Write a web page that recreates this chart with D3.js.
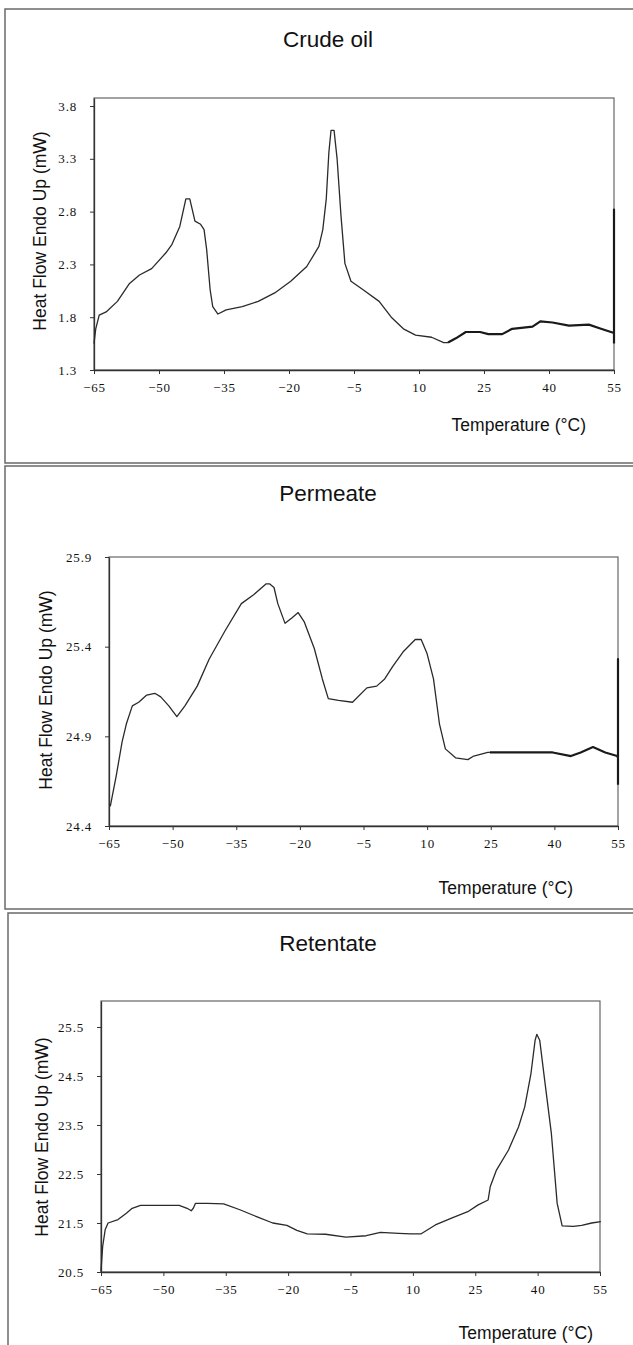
<!DOCTYPE html>
<html>
<head>
<meta charset="utf-8">
<script src="https://cdn.jsdelivr.net/npm/d3@7"></script>
<style>
  body { margin: 0; background: #fff; }
  .tick text { font-family: "Liberation Serif", "Times New Roman", serif; font-size: 13px; letter-spacing: 0.8px; fill: #111; }
  .lbl { font-family: "Liberation Sans", Arial, sans-serif; fill: #111; }
</style>
</head>
<body>
<svg id="chart" width="633" height="1345"></svg>
<script>
// shared x axis ticks (Temperature, °C)
var xTicks = [-65, -50, -35, -20, -5, 10, 25, 40, 55];

// Crude oil
var crudeTemp = [-65, -64.6, -63.8, -62.2, -59.6, -56.8, -54.5, -51.7, -48.4, -47.0, -45.2, -43.8, -42.9, -41.7, -40.4, -39.6, -39.0, -38.2, -37.6, -36.4, -34.5, -30.8, -27.1, -23.3, -19.6, -15.9, -13.1, -12.2, -11.4, -10.8, -10.3, -9.6, -8.9, -8.0, -7.1, -5.7, -2.9, 0.8, 3.6, 6.4, 9.2, 12.9, 15.7, 16.7, 18.5, 20.8, 24.1, 26.0, 29.2, 31.5, 36.2, 38.0, 40.8, 44.6, 49.2, 52.0, 55, 55, 55];
var crudeFlow = [1.55, 1.69, 1.82, 1.85, 1.95, 2.12, 2.20, 2.26, 2.41, 2.49, 2.66, 2.92, 2.92, 2.71, 2.68, 2.63, 2.44, 2.06, 1.90, 1.83, 1.87, 1.90, 1.95, 2.03, 2.14, 2.28, 2.47, 2.63, 2.92, 3.36, 3.57, 3.57, 3.30, 2.76, 2.31, 2.14, 2.06, 1.95, 1.80, 1.69, 1.63, 1.61, 1.56, 1.56, 1.60, 1.66, 1.66, 1.64, 1.64, 1.69, 1.71, 1.76, 1.75, 1.72, 1.73, 1.69, 1.65, 2.82, 1.55];
var crudeTicks = [1.3, 1.8, 2.3, 2.8, 3.3, 3.8];

// Permeate
var permTemp = [-64.7, -63.3, -61.9, -60.9, -59.5, -58.0, -56.1, -54.2, -52.8, -50.9, -49.0, -47.1, -44.2, -41.4, -37.6, -33.8, -30.9, -28.0, -27.1, -26.1, -25.2, -23.5, -21.9, -20.4, -19.0, -16.6, -14.7, -13.3, -10.9, -7.6, -4.2, -1.9, 0.0, 1.9, 4.3, 7.2, 8.6, 10.0, 11.5, 12.9, 14.3, 16.7, 19.6, 21.0, 24.3, 24.8, 32.9, 39.6, 43.9, 46.2, 49.1, 52.0, 54.8, 55, 55, 55];
var permFlow = [24.51, 24.68, 24.87, 24.97, 25.07, 25.09, 25.13, 25.14, 25.12, 25.07, 25.01, 25.07, 25.18, 25.33, 25.49, 25.64, 25.69, 25.75, 25.75, 25.73, 25.64, 25.53, 25.56, 25.59, 25.54, 25.39, 25.22, 25.11, 25.10, 25.09, 25.17, 25.18, 25.22, 25.29, 25.37, 25.44, 25.44, 25.36, 25.22, 24.97, 24.83, 24.78, 24.77, 24.79, 24.81, 24.81, 24.81, 24.81, 24.79, 24.81, 24.84, 24.81, 24.79, 24.78, 25.33, 24.63];
var permTicks = [24.4, 24.9, 25.4, 25.9];

// Retentate
var retTemp = [-65, -64.6, -64.0, -63.3, -60.9, -58.9, -57.5, -55.5, -51.1, -46.2, -44.3, -43.3, -42.8, -42.3, -39.4, -35.5, -31.6, -27.6, -23.7, -20.3, -17.9, -15.4, -11.0, -6.1, -1.2, 2.2, 6.6, 9.5, 12.0, 15.4, 19.3, 23.2, 25.7, 28.1, 28.6, 30.1, 33.0, 35.4, 36.9, 38.4, 39.4, 39.8, 40.5, 41.7, 43.3, 44.7, 45.9, 48.6, 50.6, 53.0, 55.2];
var retFlow = [20.51, 21.02, 21.36, 21.50, 21.57, 21.70, 21.80, 21.86, 21.86, 21.86, 21.80, 21.75, 21.80, 21.90, 21.90, 21.89, 21.77, 21.63, 21.50, 21.45, 21.35, 21.28, 21.27, 21.21, 21.24, 21.31, 21.29, 21.28, 21.28, 21.46, 21.60, 21.73, 21.87, 21.97, 22.24, 22.58, 22.99, 23.46, 23.87, 24.55, 25.23, 25.35, 25.23, 24.41, 23.33, 21.90, 21.44, 21.43, 21.45, 21.50, 21.53];
var retTicks = [20.5, 21.5, 22.5, 23.5, 24.5, 25.5];

var panels = [
  { title: "Crude oil", temp: crudeTemp, flow: crudeFlow, yTicks: crudeTicks, yMax: 3.876, heavyFrom: 16.7,
    box: { x: 5, y: 9, h: 454 }, plot: { left: 94, right: 614, top: 98, bottom: 370 },
    titleY: 47, yLab: { x: 40, y: 231 }, xLab: { x: 586, y: 431 } },
  { title: "Permeate", temp: permTemp, flow: permFlow, yTicks: permTicks, yMax: 25.9, heavyFrom: 24.8,
    box: { x: 5, y: 466, h: 443 }, plot: { left: 109, right: 618, top: 557, bottom: 826 },
    titleY: 501, yLab: { x: 46, y: 690 }, xLab: { x: 573, y: 894 } },
  { title: "Retentate", temp: retTemp, flow: retFlow, yTicks: retTicks, yMax: 26.03, heavyFrom: null,
    box: { x: 8, y: 913, h: 440 }, plot: { left: 101, right: 600, top: 1001, bottom: 1272 },
    titleY: 951, yLab: { x: 42, y: 1137 }, xLab: { x: 593, y: 1339 } }
];

var svg = d3.select("#chart");

panels.forEach(function(p) {
  var g = svg.append("g");

  // panel border (runs off the right edge like the scan)
  g.append("rect")
    .attr("x", p.box.x).attr("y", p.box.y)
    .attr("width", 660).attr("height", p.box.h)
    .attr("fill", "none").attr("stroke", "#6a6a6a").attr("stroke-width", 1.5);

  var x = d3.scaleLinear().domain([-65, 55]).range([p.plot.left, p.plot.right]);
  var y = d3.scaleLinear().domain([p.yTicks[0], p.yMax]).range([p.plot.bottom, p.plot.top]);

  // plot frame
  g.append("rect")
    .attr("x", p.plot.left).attr("y", p.plot.top)
    .attr("width", p.plot.right - p.plot.left).attr("height", p.plot.bottom - p.plot.top)
    .attr("fill", "none").attr("stroke", "#666").attr("stroke-width", 1.2);

  g.append("g")
    .attr("transform", "translate(0," + p.plot.bottom + ")")
    .call(d3.axisBottom(x).tickValues(xTicks).tickSize(4).tickSizeOuter(0).tickPadding(9).tickFormat(d3.format("d")))
    .call(function(a) { a.select(".domain").attr("stroke", "#333").attr("stroke-width", 1.3); a.selectAll("line").attr("stroke", "#333"); });

  g.append("g")
    .attr("transform", "translate(" + p.plot.left + ",0)")
    .call(d3.axisLeft(y).tickValues(p.yTicks).tickSize(4).tickSizeOuter(0).tickPadding(13).tickFormat(d3.format(".1f")))
    .call(function(a) { a.select(".domain").attr("stroke", "#333").attr("stroke-width", 1.3); a.selectAll("line").attr("stroke", "#333"); });

  var pts = p.temp.map(function(t, i) { return [t, p.flow[i]]; });
  var line = d3.line().x(function(d) { return x(d[0]); }).y(function(d) { return y(d[1]); });

  var thin = p.heavyFrom === null ? pts : pts.filter(function(d) { return d[0] <= p.heavyFrom; });
  g.append("path").datum(thin).attr("d", line)
    .attr("fill", "none").attr("stroke", "#2a2a2a").attr("stroke-width", 1.3).attr("stroke-linejoin", "round");

  if (p.heavyFrom !== null) {
    var heavy = pts.filter(function(d) { return d[0] >= p.heavyFrom; });
    g.append("path").datum(heavy).attr("d", line)
      .attr("fill", "none").attr("stroke", "#1a1a1a").attr("stroke-width", 2.2).attr("stroke-linejoin", "round");
  }

  // titles
  g.append("text").attr("class", "lbl")
    .attr("x", 328).attr("y", p.titleY).attr("text-anchor", "middle")
    .style("font-size", "22.5px").text(p.title);

  g.append("text").attr("class", "lbl")
    .attr("transform", "translate(" + p.yLab.x + "," + p.yLab.y + ") rotate(-90)")
    .attr("text-anchor", "middle").attr("dy", "0.35em")
    .style("font-size", "17.5px").text("Heat Flow Endo Up (mW)");

  g.append("text").attr("class", "lbl")
    .attr("x", p.xLab.x).attr("y", p.xLab.y).attr("text-anchor", "end")
    .style("font-size", "17.5px").text("Temperature (°C)");
});
</script>
</body>
</html>
